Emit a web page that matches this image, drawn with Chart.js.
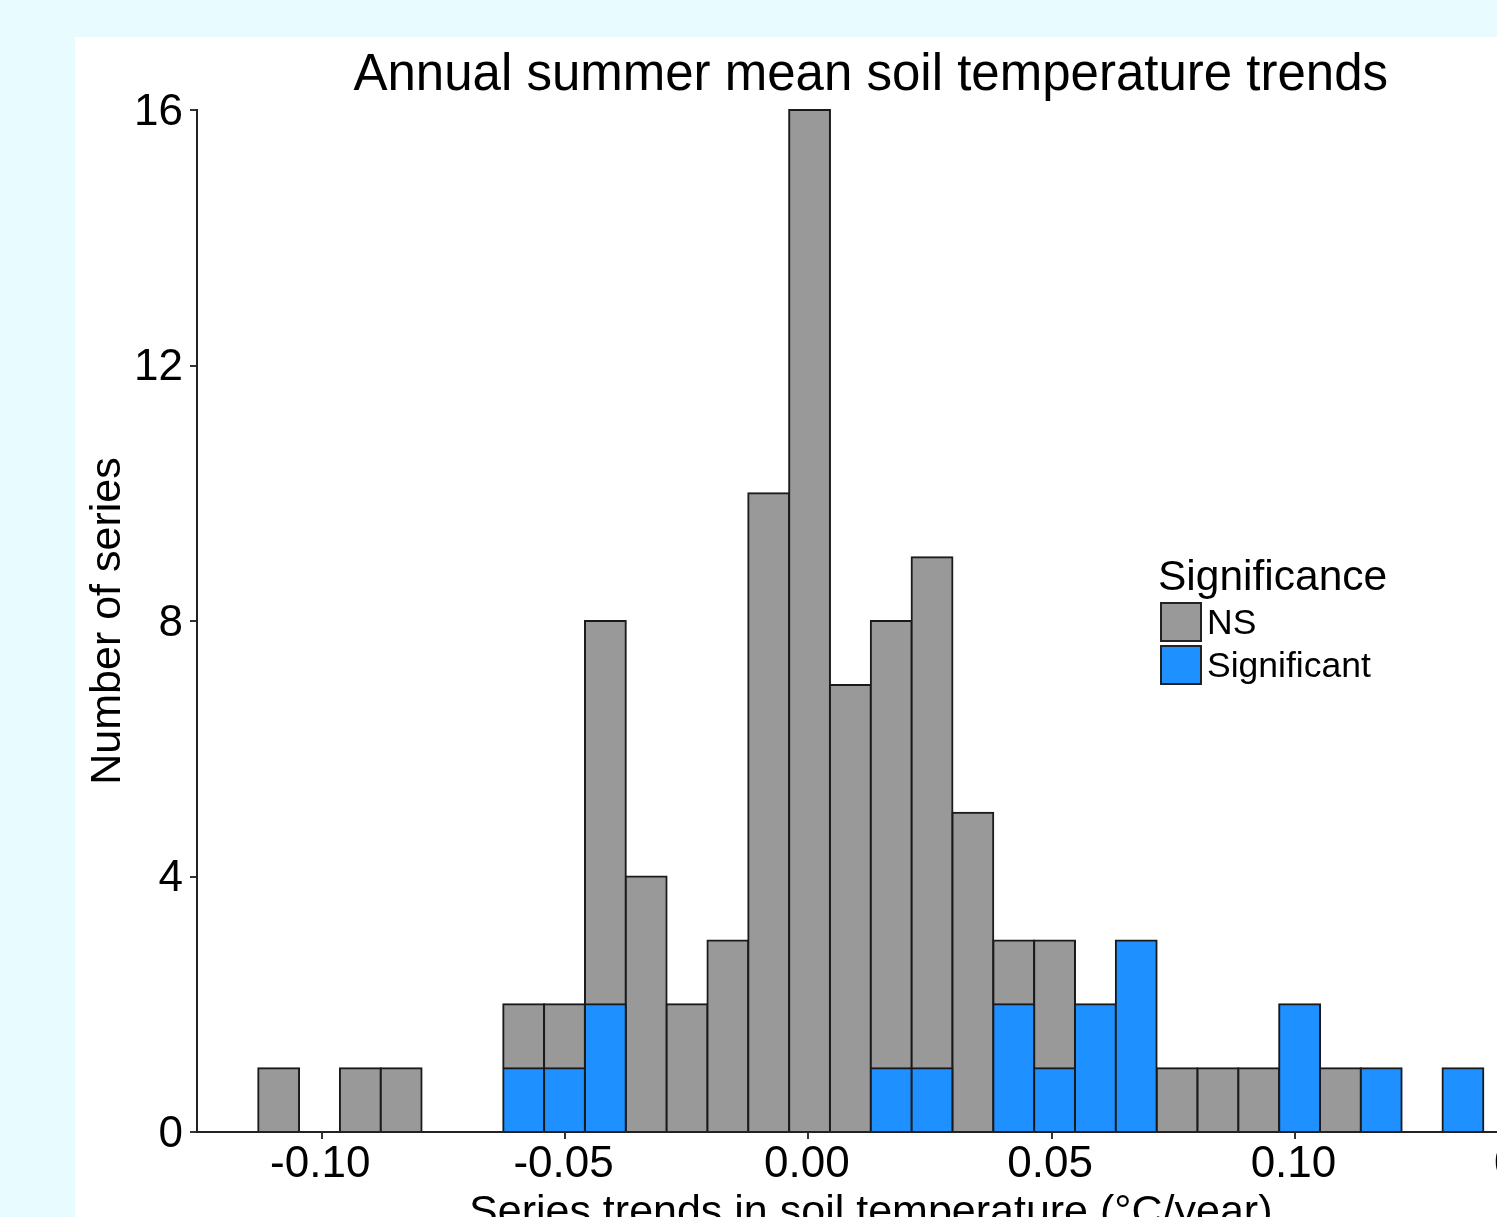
<!DOCTYPE html>
<html>
<head>
<meta charset="utf-8">
<title>Annual summer mean soil temperature trends</title>
<script src="https://cdn.jsdelivr.net/npm/chart.js@4.4.1/dist/chart.umd.min.js"></script>
<style>
  html, body { margin: 0; padding: 0; overflow: hidden; background: #e8fcff; }
  body { width: 1497px; height: 1217px; position: relative; font-family: "Liberation Sans", Arial, sans-serif; }
  #panel { position: absolute; left: 75px; top: 37px; width: 1560px; height: 1240px; background: #fff; }
  #chart { display: block; }
  #legend { position: absolute; left: 1158px; top: 555px; color: #000; }
  #legend .title { font-size: 42.5px; line-height: 42px; height: 47px; }
  #legend .item { display: flex; align-items: center; height: 40px; margin-bottom: 3px; }
  #legend .key { width: 42px; height: 40px; box-sizing: border-box; border: 2px solid #222; margin-left: 2px; }
  #legend .label { font-size: 35.5px; margin-left: 5px; }
</style>
</head>
<body>
<div id="panel"><canvas id="chart" width="1560" height="1240"></canvas></div>
<div id="legend"></div>
<script>
// histogram bins (30 bins, centre of each bin in °C/year)
const binCenters = [
  -0.10885, -0.10046, -0.09207, -0.08367, -0.07528, -0.06689, -0.05850, -0.05011, -0.04171, -0.03332,
  -0.02493, -0.01654, -0.00815, 0.00025, 0.00864, 0.01703, 0.02542, 0.03381, 0.04221, 0.05060,
  0.05899, 0.06738, 0.07577, 0.08417, 0.09256, 0.10095, 0.10934, 0.11773, 0.12613, 0.13452
];
// counts per bin, stacked: Significant at the bottom, NS on top
const sigCounts = [0, 0, 0, 0, 0, 0, 1, 1, 2, 0, 0, 0, 0, 0, 0, 1, 1, 0, 2, 1, 2, 3, 0, 0, 0, 2, 0, 1, 0, 1];
const nsCounts  = [1, 0, 1, 1, 0, 0, 1, 1, 6, 4, 2, 3, 10, 16, 7, 7, 8, 5, 1, 2, 0, 0, 1, 1, 1, 0, 1, 0, 0, 0];

const seriesNames = ['Significant', 'NS'];
const seriesColors = ['#1e90ff', '#999999'];

const xRange = [-0.12563, 0.15128];
const xTickValues = [-0.10, -0.05, 0, 0.05, 0.10, 0.15];
const xTickLabels = ['-0.10', '-0.05', '0.00', '0.05', '0.10', '0.15'];
const yRange = [0, 16];
const yTickValues = [0, 4, 8, 12, 16];
const yTickLabels = ['0', '4', '8', '12', '16'];

Chart.defaults.font.family = '"Liberation Sans", Arial, sans-serif';
Chart.defaults.color = '#000';

const toPoints = counts => binCenters.map((x, i) => ({ x, y: counts[i] > 0 ? counts[i] : null }));

const gridOpts = { display: true, drawOnChartArea: false, drawTicks: true, tickLength: 7, color: '#333', lineWidth: 2, offset: false };
const borderOpts = { display: true, color: '#222', width: 2, z: 1 };

const chart = new Chart(document.getElementById('chart'), {
  type: 'bar',
  data: {
    datasets: [
      { label: seriesNames[0], data: toPoints(sigCounts), backgroundColor: seriesColors[0], clip: false },
      { label: seriesNames[1], data: toPoints(nsCounts), backgroundColor: seriesColors[1], clip: false },
    ],
  },
  options: {
    responsive: false,
    animation: false,
    devicePixelRatio: 1,
    layout: { padding: { left: 0, top: 0, right: 90.5, bottom: 0 } },
    datasets: {
      bar: { borderColor: '#1a1a1a', borderWidth: 2, inflateAmount: 1, barPercentage: 1, categoryPercentage: 1 },
    },
    plugins: {
      legend: { display: false },
      tooltip: { enabled: false },
      title: {
        display: true,
        fullSize: false,
        text: 'Annual summer mean soil temperature trends',
        color: '#000',
        font: { size: 51, weight: 'normal' },
        padding: { top: 8.7, bottom: 3.1 },
      },
    },
    scales: {
      x: {
        type: 'linear',
        min: xRange[0],
        max: xRange[1],
        stacked: true,
        offset: false,
        grid: gridOpts,
        border: borderOpts,
        afterBuildTicks: s => { s.ticks = xTickValues.map(value => ({ value })); },
        afterFit: s => { s.height = 145; },
        ticks: {
          autoSkip: false, maxRotation: 0, minRotation: 0, padding: 4, labelOffset: -1.5,
          font: { size: 44, lineHeight: 1 },
          callback: (v, i) => xTickLabels[i],
        },
        title: {
          display: true,
          text: 'Series trends in soil temperature (°C/year)',
          font: { size: 43 },
          padding: { top: 0, bottom: 38.3 },
        },
      },
      y: {
        min: yRange[0],
        max: yRange[1],
        stacked: true,
        grid: gridOpts,
        border: borderOpts,
        afterBuildTicks: s => { s.ticks = yTickValues.map(value => ({ value })); },
        afterFit: s => { s.width = 122; },
        ticks: {
          autoSkip: false, padding: 7, labelOffset: 2.5,
          font: { size: 44, lineHeight: 1 },
          callback: (v, i) => yTickLabels[i],
        },
        title: {
          display: true,
          text: 'Number of series',
          font: { size: 43 },
          padding: { top: 7.6, bottom: 0 },
        },
      },
    },
  },
});

// legend sits inside the panel, NS listed first like the original
const legendEl = document.getElementById('legend');
legendEl.innerHTML = '<div class="title">Significance</div>' +
  chart.data.datasets.slice().reverse().map(ds =>
    `<div class="item"><span class="key" style="background:${ds.backgroundColor}"></span><span class="label">${ds.label}</span></div>`
  ).join('');
</script>
</body>
</html>
